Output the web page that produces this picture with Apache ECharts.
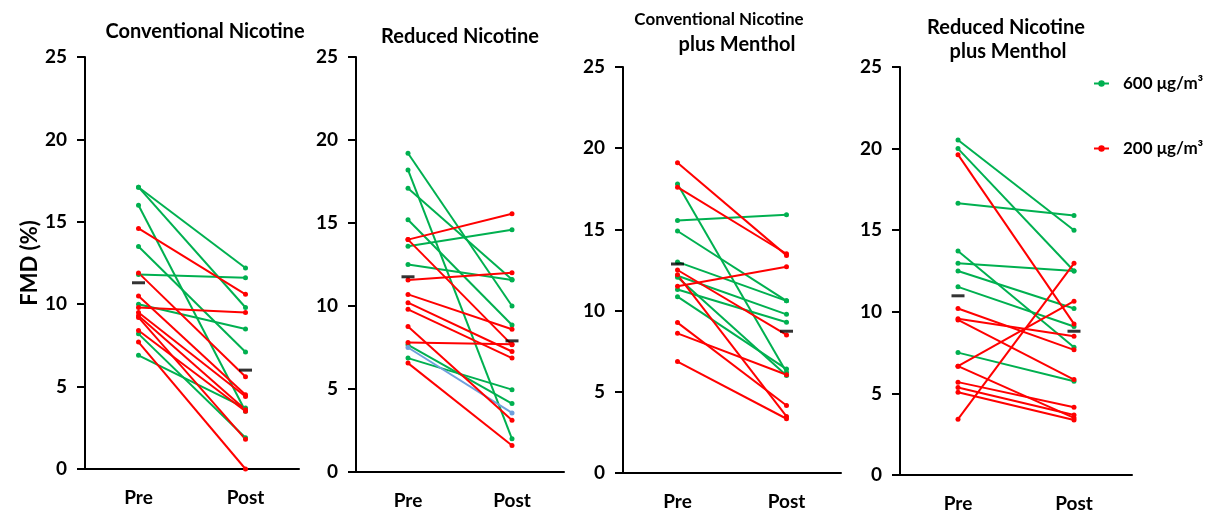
<!DOCTYPE html>
<html>
<head>
<meta charset="utf-8">
<script src="https://cdn.jsdelivr.net/npm/echarts@6/dist/echarts.min.js"></script>
<style>
html, body { margin: 0; padding: 0; background: #fff; }
#chart { width: 1209px; height: 516px; }
</style>
</head>
<body>
<div id="chart"></div>
<script>
var categories = ['Pre', 'Post'];
var highName = '600 μg/m³';
var lowName = '200 μg/m³';

// panel 1 - Conventional Nicotine
var cnGreenPre  = [17.1, 17.1, 16.0, 13.5, 11.8, 10.0, 8.2, 6.9];
var cnGreenPost = [12.2, 9.8, 3.5, 7.1, 11.6, 8.5, 1.9, 3.7];
var cnRedPre    = [14.6, 11.9, 10.5, 9.8, 9.5, 9.3, 9.2, 8.4, 7.7];
var cnRedPost   = [10.6, 5.6, 4.5, 9.5, 4.4, 3.6, 1.8, 3.5, 0.0];
var cnMean      = [11.3, 6.0];

// panel 2 - Reduced Nicotine
var rnGreenPre  = [19.2, 18.2, 17.1, 15.2, 13.6, 12.5, 7.66, 6.86];
var rnGreenPost = [10.0, 2.0, 11.6, 8.86, 14.6, 11.56, 4.12, 4.96];
var rnBluePre   = [7.5];
var rnBluePost  = [3.56];
var rnRedPre    = [14.0, 14.0, 11.56, 10.7, 10.2, 9.8, 8.76, 7.8, 6.56];
var rnRedPost   = [15.56, 7.66, 12.0, 8.6, 7.26, 6.86, 3.12, 7.7, 1.6];
var rnMean      = [11.76, 7.9];

// panel 3 - Conventional Nicotine plus Menthol
var cmGreenPre  = [17.8, 15.55, 14.9, 13.0, 12.15, 12.05, 11.3, 10.86];
var cmGreenPost = [6.2, 15.9, 10.6, 10.6, 9.77, 6.0, 9.28, 6.4];
var cmRedPre    = [19.1, 17.6, 12.5, 12.2, 11.5, 9.26, 8.6, 6.86];
var cmRedPost   = [13.4, 13.5, 8.5, 3.48, 12.7, 4.16, 6.05, 3.34];
var cmMean      = [12.87, 8.73];

// panel 4 - Reduced Nicotine plus Menthol
var rmGreenPre  = [20.53, 20.0, 16.65, 13.72, 12.97, 12.5, 11.53, 7.5];
var rmGreenPost = [15.0, 12.5, 15.9, 7.83, 12.5, 10.2, 9.1, 5.75];
var rmRedPre    = [19.63, 10.2, 9.57, 9.5, 6.67, 6.67, 5.69, 5.36, 5.07, 3.42];
var rmRedPost   = [9.26, 7.67, 8.5, 5.85, 10.65, 3.5, 4.15, 3.68, 3.37, 12.97];
var rmMean      = [10.98, 8.81];

var GREEN = '#00b050', RED = '#ff0000', BLUE = '#6fa0dc';
var FONT = 'Lato';

var panels = [
  { grid: {left: 85, top: 57, width: 214, height: 412},
    groups: [[cnGreenPre, cnGreenPost, GREEN, highName], [cnRedPre, cnRedPost, RED, lowName]], mean: cnMean },
  { grid: {left: 356, top: 57, width: 208, height: 415},
    groups: [[rnGreenPre, rnGreenPost, GREEN, highName], [rnBluePre, rnBluePost, BLUE, 'other'], [rnRedPre, rnRedPost, RED, lowName]], mean: rnMean },
  { grid: {left: 623, top: 67, width: 218, height: 406},
    groups: [[cmGreenPre, cmGreenPost, GREEN, highName], [cmRedPre, cmRedPost, RED, lowName]], mean: cmMean },
  { grid: {left: 900, top: 67, width: 232, height: 408},
    groups: [[rmGreenPre, rmGreenPost, GREEN, highName], [rmRedPre, rmRedPost, RED, lowName]], mean: rmMean }
];

var grids = [], xAxes = [], yAxes = [], series = [];
panels.forEach(function (p, i) {
  grids.push(p.grid);
  xAxes.push({
    type: 'category', gridIndex: i, data: categories,
    axisLine: {lineStyle: {color: '#000', width: 2}},
    axisTick: {show: false},
    axisLabel: {color: '#000', fontFamily: FONT, fontWeight: 'bold', fontSize: 19, margin: 19}
  });
  yAxes.push({
    type: 'value', gridIndex: i, min: 0, max: 25, interval: 5,
    name: i === 0 ? 'FMD (%)' : '', nameLocation: 'middle', nameGap: 43,
    nameTextStyle: {color: '#000', fontFamily: FONT, fontWeight: 'bold', fontSize: 22},
    axisLine: {show: true, lineStyle: {color: '#000', width: 2}},
    axisTick: {show: true, length: 8, lineStyle: {color: '#000', width: 2}},
    splitLine: {show: false},
    axisLabel: {color: '#000', fontFamily: FONT, fontWeight: 'bold', fontSize: 19, margin: 18}
  });
  p.groups.forEach(function (g) {
    for (var j = 0; j < g[0].length; j++) {
      series.push({
        type: 'line', name: g[3], xAxisIndex: i, yAxisIndex: i,
        data: [g[0][j], g[1][j]],
        symbol: 'circle', symbolSize: 5, silent: true,
        lineStyle: {color: g[2], width: 2},
        itemStyle: {color: g[2]}
      });
    }
  });
  series.push({
    type: 'scatter', xAxisIndex: i, yAxisIndex: i, data: p.mean,
    symbol: 'rect', symbolSize: [13, 3], z: 10, silent: true,
    itemStyle: {color: '#000'}
  });
});

function label(text, x, y, size) {
  return {type: 'text', x: x, y: y, style: {text: text, textAlign: 'center', textVerticalAlign: 'middle',
    font: 'bold ' + size + 'px ' + FONT, fill: '#000'}};
}

var chart = echarts.init(document.getElementById('chart'));
chart.setOption({
  animation: false,
  grid: grids, xAxis: xAxes, yAxis: yAxes, series: series,
  legend: {
    data: [highName, lowName], orient: 'vertical', left: 1088, top: 70, itemGap: 48,
    itemWidth: 15, itemHeight: 8, selectedMode: false,
    textStyle: {color: '#000', fontFamily: FONT, fontWeight: 'bold', fontSize: 17, padding: [0, 0, 0, 9]}
  },
  graphic: [
    label('Conventional Nicotine', 205, 32, 20),
    label('Reduced Nicotine', 460, 37, 20),
    label('Conventional Nicotine', 719, 20, 17),
    label('plus Menthol', 737, 45, 20),
    label('Reduced Nicotine', 1006, 28, 20),
    label('plus Menthol', 1008, 52, 20)
  ]
});
</script>
</body>
</html>
